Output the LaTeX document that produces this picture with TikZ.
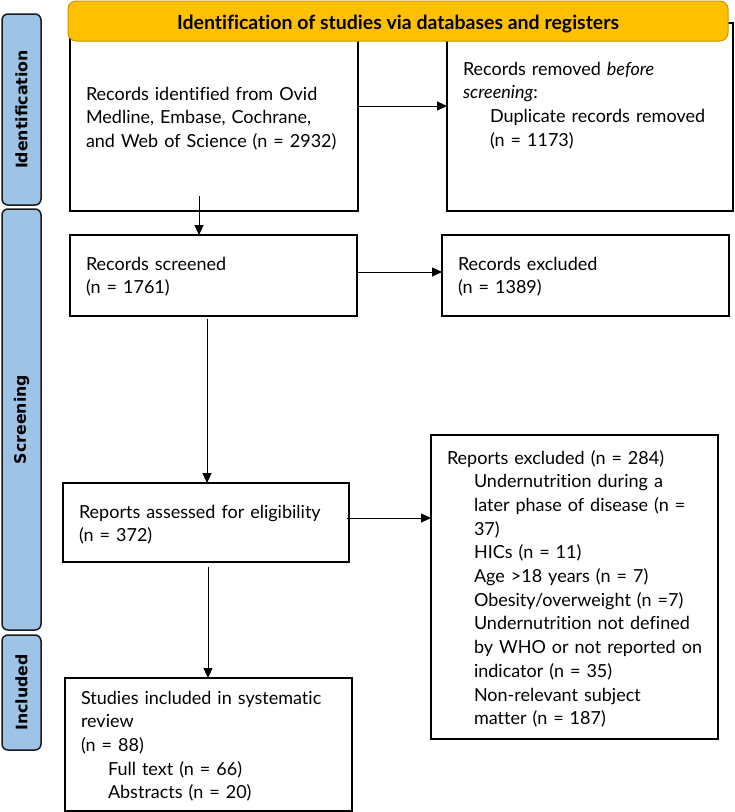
\documentclass[tikz,border=0pt]{standalone}
\usepackage{fontspec}
\setmainfont{Lato}[Ligatures=NoCommon]
\newfontfamily\barfont{DejaVu Sans}
\usetikzlibrary{arrows.meta}
\definecolor{barblue}{HTML}{9DC3E6}
\definecolor{bannergold}{HTML}{FFC000}
\definecolor{bannerline}{HTML}{C99700}
\tikzset{
  box/.style={draw=black, line width=1.8pt, fill=white, inner sep=0pt, outer sep=0pt, anchor=north west},
  sidebar/.style={draw=black!90, line width=1.5pt, fill=barblue, rounded corners=6pt, inner sep=0pt, outer sep=0pt, rotate=90, font=\barfont\bfseries\fontsize{15.8}{18}\selectfont},
  banner/.style={draw=bannerline, line width=1pt, fill=bannergold, rounded corners=8pt, inner sep=0pt, outer sep=0pt, anchor=north west},
  bannertxt/.style={anchor=base, inner sep=0pt, font=\bfseries\fontsize{19.5}{22}\selectfont},
  arr/.style={line width=0.9pt, -{Triangle[length=10pt,width=9pt]}},
  txt/.style={anchor=base west, inner sep=0pt, outer sep=0pt, align=left, text width=300pt, font=\fontsize{18}{23.7}\selectfont},
}
\newcommand{\ind}{\hspace*{27pt}}
\begin{document}
\begin{tikzpicture}[x=1pt,y=-1pt]
\useasboundingbox (0,0) rectangle (735,812);
% side bars
\node[sidebar, minimum width=191pt, minimum height=39pt] (sid) at (21.5,109.5) {Identification};
\node[sidebar, minimum width=421pt, minimum height=39pt] (sscr) at (21.5,419.5) {Screening};
\node[sidebar, minimum width=115pt, minimum height=39pt] (sinc) at (21.5,692.5) {Included};
% boxes
\node[box, minimum width=288pt, minimum height=188pt] (A) at (70,23) {};
\node[box, minimum width=286pt, minimum height=188pt] (B) at (447,23) {};
\node[box, minimum width=287pt, minimum height=81pt] (C) at (70,235) {};
\node[box, minimum width=287pt, minimum height=81pt] (G) at (442,235) {};
\node[box, minimum width=286pt, minimum height=79pt] (D) at (63,483) {};
\node[box, minimum width=287pt, minimum height=304pt] (F) at (431,435) {};
\node[box, minimum width=287pt, minimum height=133pt] (E) at (65,678) {};
% banner
\node[banner, minimum width=660pt, minimum height=40pt] (ban) at (68,1) {};
\node[bannertxt] (bant) at (398,29) {Identification of studies via databases and registers};
% texts
\node[txt] (tA) at (86,100) {Records identified from Ovid\\Medline, Embase, Cochrane,\\and Web of Science (n = 2932)};
\node[txt] (tB) at (463,75) {Records removed \emph{before}\\\emph{screening}:\\\ind Duplicate records removed\\\ind (n = 1173)};
\node[txt] (tC) at (86,270) {Records screened\\(n = 1761)};
\node[txt] (tG) at (458,270) {Records excluded\\(n = 1389)};
\node[txt] (tD) at (79,518) {Reports assessed for eligibility\\(n = 372)};
\node[txt] (tF) at (447,464) {Reports excluded (n = 284)\\\ind Undernutrition during a\\\ind later phase of disease (n =\\\ind 37)\\\ind HICs (n = 11)\\\ind Age >18 years (n = 7)\\\ind Obesity/overweight (n =7)\\\ind Undernutrition not defined\\\ind by WHO or not reported on\\\ind indicator (n = 35)\\\ind Non-relevant subject\\\ind matter (n = 187)};
\node[txt] (tE) at (81,704) {Studies included in systematic\\review\\(n = 88)\\\ind Full text (n = 66)\\\ind Abstracts (n = 20)};
% connectors
\coordinate (a1) at (199,196);
\coordinate (c1) at (207,319);
\coordinate (d1) at (208,567);
\draw[arr] ([yshift=11pt]A.east) -- ([yshift=11pt]B.west);
\draw[arr] (a1) -- (a1 |- C.north);
\draw[arr] ([yshift=3.5pt]C.east) -- ([yshift=3.5pt]G.west);
\draw[arr] (c1) -- (c1 |- D.north);
\draw[arr] ([xshift=-2pt,yshift=4.5pt]D.east) -- ([yshift=4.5pt]D.east -| F.west);
\draw[arr] (d1) -- (d1 |- E.north);
\end{tikzpicture}
\end{document}
